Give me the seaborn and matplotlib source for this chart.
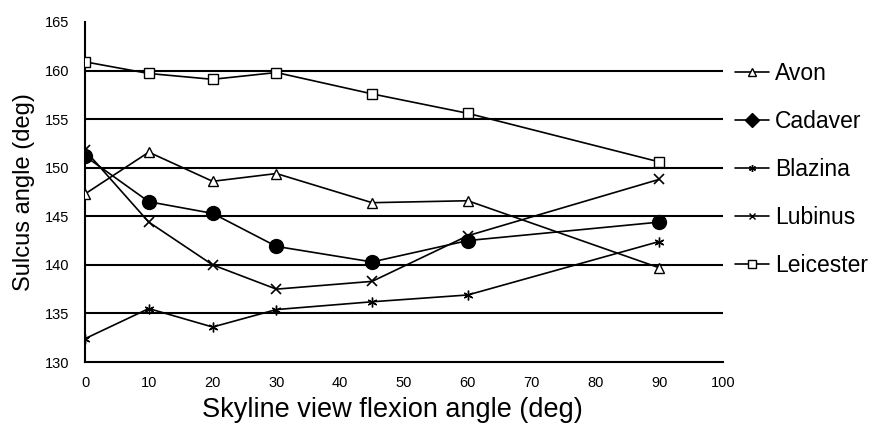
import matplotlib
matplotlib.use("Agg")
import matplotlib.pyplot as plt
import seaborn as sns
import pandas as pd
from matplotlib.lines import Line2D

flexion = [0, 10, 20, 30, 45, 60, 90]
avon = [147.3, 151.6, 148.6, 149.4, 146.4, 146.6, 139.7]
cadaver = [151.2, 146.5, 145.3, 141.9, 140.3, 142.5, 144.4]
blazina = [132.4, 135.5, 133.6, 135.4, 136.2, 136.9, 142.4]
lubinus = [151.8, 144.4, 140.0, 137.5, 138.3, 143.0, 148.8]
leicester = [160.9, 159.7, 159.1, 159.8, 157.6, 155.6, 150.6]
series_names = ["Avon", "Cadaver", "Blazina", "Lubinus", "Leicester"]
x_ticks = list(range(0, 101, 10))
y_ticks = list(range(130, 166, 5))

sns.set_style("white")
plt.rcParams['font.family'] = ['Liberation Sans', 'DejaVu Sans']
plt.rcParams['text.color'] = 'black'
plt.rcParams['axes.labelcolor'] = 'black'
plt.rcParams['xtick.color'] = 'black'
plt.rcParams['ytick.color'] = 'black'

fig = plt.figure(figsize=(8.76, 4.23), dpi=100)
ax = fig.add_axes([85/876, 1 - 362/423, (723-85)/876, (362-22)/423])

for yv in y_ticks[1:-1]:
    ax.axhline(yv, color='black', lw=1.5, zorder=1)

styles = {
    "Avon": dict(marker='^', ms=7, mfc='white', mec='black', mew=1.0),
    "Cadaver": dict(marker='o', ms=10, mfc='black', mec='black', mew=1.0),
    "Blazina": dict(marker=(6, 2, 0), ms=7, mfc='black', mec='black', mew=1.0),
    "Lubinus": dict(marker='x', ms=7, mfc='black', mec='black', mew=1.2),
    "Leicester": dict(marker='s', ms=7, mfc='white', mec='black', mew=1.0),
}
legend_styles = {
    "Avon": dict(marker='^', ms=6, mfc='white', mec='black', mew=1.0),
    "Cadaver": dict(marker='D', ms=7, mfc='black', mec='black', mew=1.0),
    "Blazina": dict(marker=(6, 2, 0), ms=5, mfc='black', mec='black', mew=1.0),
    "Lubinus": dict(marker='x', ms=4, mfc='black', mec='black', mew=1.0),
    "Leicester": dict(marker='s', ms=6, mfc='white', mec='black', mew=1.0),
}
data = {"Avon": avon, "Cadaver": cadaver, "Blazina": blazina,
        "Lubinus": lubinus, "Leicester": leicester}

for name in series_names:
    df = pd.DataFrame({"x": flexion, "y": data[name]})
    sns.lineplot(data=df, x="x", y="y", ax=ax, color='black', lw=1.2,
                 zorder=3, **styles[name])

ax.set_xlim(0, 100)
ax.set_ylim(130, 165)
ax.set_xticks(x_ticks)
ax.set_yticks(y_ticks)
ax.tick_params(axis='both', direction='out', length=4, width=1, colors='black',
               labelsize=10.5)
ax.tick_params(axis='y', pad=7)
ax.tick_params(axis='x', pad=6)
for s in ['top', 'right']:
    ax.spines[s].set_visible(False)
for s in ['left', 'bottom']:
    ax.spines[s].set_color('black')
    ax.spines[s].set_linewidth(1.5)
ax.set_xlabel("Skyline view flexion angle (deg)", fontsize=19.5, color='black')
ax.set_ylabel("Sulcus angle (deg)", fontsize=17, color='black')
ax.xaxis.set_label_coords((392-85)/638, -(397-362)/340)
ax.yaxis.set_label_coords((35-85)/638, 0.5)

handles = [Line2D([0], [0], color='black', lw=1.2, **legend_styles[n]) for n in series_names]
leg = fig.legend(handles, series_names, loc='upper left', bbox_to_anchor=(735/876, 1 - 62/423),
                 frameon=False, handlelength=1.5, handletextpad=0.25,
                 borderaxespad=0, borderpad=0, labelcolor='black',
                 labelspacing=1.09, prop={'family': ['Liberation Sans', 'DejaVu Sans'], 'size': 16.5})

fig.savefig("out.png", dpi=100)
